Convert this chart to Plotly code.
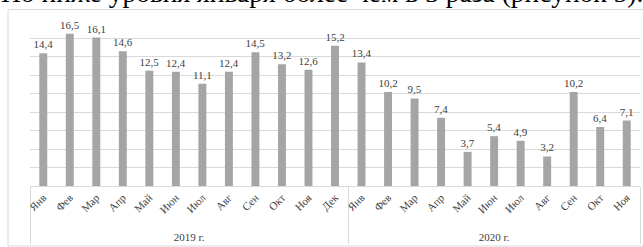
import plotly.graph_objects as go

months = ["Янв", "Фев", "Мар", "Апр", "Май", "Июн", "Июл", "Авг", "Сен", "Окт", "Ноя", "Дек"]
years = ["2019 г.", "2020 г."]
values_2019 = [14.4, 16.5, 16.1, 14.6, 12.5, 12.4, 11.1, 12.4, 14.5, 13.2, 12.6, 15.2]
values_2020 = [13.4, 10.2, 9.5, 7.4, 3.7, 5.4, 4.9, 3.2, 10.2, 6.4, 7.1]
header_text = "Но ниже уровня января более чем в 3 раза (рисунок 5)."

x_year = [years[0]] * len(values_2019) + [years[1]] * len(values_2020)
x_month = months[:len(values_2019)] + months[:len(values_2020)]
y_vals = values_2019 + values_2020

W, H = 643, 247
L, R, T, B = 30, 3, 20, 61
pw = W - L - R
ph = H - T - B

SERIF = "Liberation Serif"
fig = go.Figure(go.Bar(
    x=[x_year, x_month], y=y_vals,
    marker=dict(color="#a5a5a5", line=dict(width=0)),
    texttemplate="%{y:.1f}", textposition="outside", constraintext="none",
    textfont=dict(family=SERIF, size=11, color="#404040"),
    cliponaxis=False, hoverinfo="skip",
))

fig.update_layout(
    width=W, height=H, margin=dict(l=L, r=R, t=T, b=B, autoexpand=False),
    paper_bgcolor="white", plot_bgcolor="white",
    separators=", ", bargap=0.7, showlegend=False,
    font=dict(family=SERIF, color="#404040"),
)
fig.update_xaxes(
    type="multicategory", tickangle=-45, tickfont=dict(family=SERIF, size=11, color="#404040"),
    showdividers=True, dividercolor="#d9d9d9", dividerwidth=1,
    showline=True, linecolor="#d9d9d9", linewidth=1, ticks="", automargin=False,
)
fig.update_yaxes(
    range=[0, 18], dtick=2, showticklabels=False, showgrid=True, gridcolor="#d9d9d9",
    gridwidth=1, zeroline=False, showline=False, ticks="", automargin=False,
)

# chart border
fig.add_shape(type="rect", xref="paper", yref="paper",
              x0=(8 - L) / pw, x1=(W + 5 - L) / pw,
              y0=1 - (246 - T) / ph, y1=1 + (T - 9.5) / ph,
              line=dict(color="#d9d9d9", width=1), fillcolor="rgba(0,0,0,0)", layer="below")

fig.add_annotation(text=header_text, xref="paper", yref="paper",
                   x=(-1 - L) / pw, y=1 + (T - 9.8) / ph, xanchor="left", yanchor="bottom",
                   showarrow=False, font=dict(family=SERIF, size=27.5, color="black"))

fig.write_html("out.html", config={"displayModeBar": False},
               post_script="document.body.style.margin='0';document.body.style.overflow='hidden';")
